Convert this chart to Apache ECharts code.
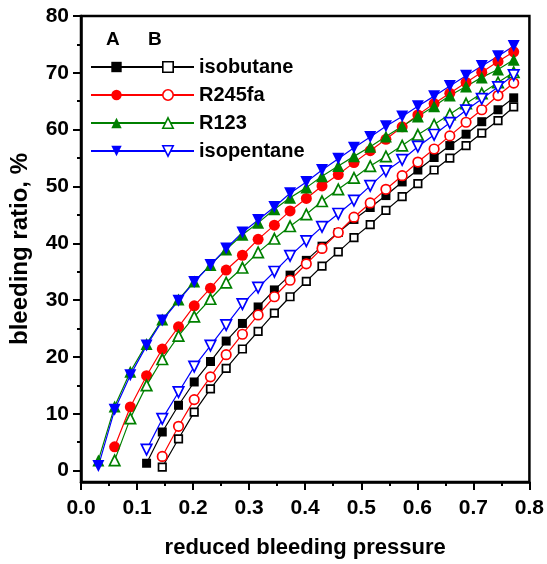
<!DOCTYPE html>
<html>
<head>
<meta charset="utf-8">
<script src="https://cdn.jsdelivr.net/npm/echarts@6/dist/echarts.min.js"></script>
<style>
html,body{margin:0;padding:0;background:#fff;}
#chart{width:547px;height:564px;}
</style>
</head>
<body>
<div id="chart"></div>
<script>
// ---- data ----
const reducedPressure = [0.031,0.060,0.088,0.117,0.145,0.174,0.202,0.231,0.259,0.288,0.316,0.345,0.373,0.402,0.430,0.459,0.487,0.516,0.544,0.573,0.601,0.630,0.658,0.687,0.715,0.744,0.772];

const isobutaneA = [null,null,null,1.3,6.8,11.5,15.6,19.2,22.8,25.9,28.8,31.8,34.4,37.0,39.5,41.9,44.2,46.3,48.4,50.8,52.9,55.1,57.2,59.2,61.4,63.5,65.6];
const r245faA = [null,4.2,11.2,16.7,21.4,25.3,29.0,32.1,35.3,37.9,40.7,43.2,45.7,47.9,50.1,52.1,54.2,56.3,58.3,60.5,62.6,64.6,66.4,68.3,70.1,72.0,73.7];
const r123A = [1.8,11.3,17.4,22.3,26.6,30.1,33.3,36.2,38.9,41.5,43.6,46.0,48.0,49.8,51.8,53.6,55.3,57.0,58.8,60.6,62.3,64.1,66.0,67.6,69.2,70.6,72.3];
const isopentaneA = [0.8,10.7,16.8,22.0,26.4,29.9,33.2,36.2,39.1,41.9,44.1,46.4,48.8,50.8,52.9,54.9,56.8,58.7,60.6,62.3,64.1,65.9,67.7,69.5,71.2,72.9,74.7];

const isobutaneB = [null,null,null,null,0.6,5.6,10.3,14.4,18.0,21.4,24.5,27.7,30.6,33.3,36.0,38.5,41.0,43.3,45.8,48.2,50.5,52.9,55.0,57.2,59.4,61.6,64.0];
const r245faB = [null,null,null,null,2.5,7.8,12.5,16.5,20.4,24.0,27.4,30.6,33.5,36.4,39.1,41.9,44.6,47.1,49.5,51.9,54.3,56.6,58.9,61.3,63.5,66.0,68.2];
const r123B = [null,1.8,9.2,15.0,19.6,23.7,27.1,30.2,33.1,35.7,38.4,40.8,43.0,45.1,47.4,49.5,51.5,53.6,55.3,57.2,59.1,60.9,62.7,64.6,66.4,68.3,70.1];
const isopentaneB = [null,null,null,3.7,9.1,13.8,18.3,22.0,25.6,29.3,32.2,35.0,37.8,40.4,42.9,45.2,47.5,50.1,52.7,54.7,57.0,59.1,61.2,63.4,65.4,67.5,69.6];

const fluids = ['isobutane','R245fa','R123','isopentane'];
const xTicks = [0,0.1,0.2,0.3,0.4,0.5,0.6,0.7,0.8];
const yTicks = [0,10,20,30,40,50,60,70,80];
const yMinorTicks = [5,15,25,35,45,55,65,75];

// ---- styling ----
const FONT = 'Liberation Sans, Arial, Helvetica, sans-serif';
const colors = ['#000000','#ff0000','#008000','#0000ff'];
const symbols = ['rect','circle','triangle','triangle'];
const rotations = [0,0,0,180];
const filledSizes = [9,11,12,12];
const openSizes = [7.5,9.5,10.5,10.5];

function pts(ys){
  const out = [];
  ys.forEach((y,i)=>{ if(y!==null) out.push([reducedPressure[i], y]); });
  return out;
}

const dataA = [isobutaneA, r245faA, r123A, isopentaneA];
const dataB = [isobutaneB, r245faB, r123B, isopentaneB];

const series = [];
fluids.forEach((f,k)=>{
  series.push({
    name: f + ' A', type: 'line', data: pts(dataA[k]),
    symbol: symbols[k], symbolRotate: rotations[k], symbolSize: filledSizes[k],
    showAllSymbol: true,
    lineStyle: {color: colors[k], width: 1.2},
    itemStyle: {color: colors[k], borderWidth: 0},
    emphasis: {disabled: true}, animation: false, z: 2
  });
});
fluids.forEach((f,k)=>{
  series.push({
    name: f + ' B', type: 'line', data: pts(dataB[k]),
    symbol: symbols[k], symbolRotate: rotations[k], symbolSize: openSizes[k],
    showAllSymbol: true,
    lineStyle: {color: colors[k], width: 1.2},
    itemStyle: {color: '#ffffff', borderColor: colors[k], borderWidth: 1.7},
    emphasis: {disabled: true}, animation: false, z: 3
  });
});

const chart = echarts.init(document.getElementById('chart'), null, {renderer: 'canvas'});
chart.setOption({
  animation: false,
  backgroundColor: '#ffffff',
  grid: {left: 81, right: 17, top: 16, bottom: 81, show: true, borderColor: '#000', borderWidth: 2.5, containLabel: false},
  xAxis: {
    type: 'value', min: 0, max: 0.8, interval: 0.1,
    name: 'reduced bleeding pressure', nameLocation: 'middle', nameGap: 55,
    nameTextStyle: {fontFamily: FONT, fontWeight: 'bold', fontSize: 22, color: '#000'},
    axisLine: {show: true, onZero: false, lineStyle: {color: '#000', width: 2.5}},
    axisTick: {show: true, inside: false, length: 8, lineStyle: {color: '#000', width: 2}},
    minorTick: {show: true, splitNumber: 2, length: 4, lineStyle: {color: '#000', width: 2}},
    splitLine: {show: false},
    axisLabel: {margin: 16, fontFamily: FONT, fontWeight: 'bold', fontSize: 21, color: '#000',
      customValues: xTicks, formatter: v => v.toFixed(1)}
  },
  yAxis: [{
    type: 'value', min: -2, max: 80, position: 'left',
    name: 'bleeding ratio, %', nameLocation: 'middle', nameGap: 49, nameRotate: 90,
    nameTextStyle: {fontFamily: FONT, fontWeight: 'bold', fontSize: 24, color: '#000'},
    axisLine: {show: true, onZero: false, lineStyle: {color: '#000', width: 2.5}},
    axisTick: {show: true, length: 8, customValues: yTicks, lineStyle: {color: '#000', width: 2}},
    splitLine: {show: false},
    axisLabel: {margin: 12, fontFamily: FONT, fontWeight: 'bold', fontSize: 21, color: '#000',
      customValues: yTicks, formatter: v => String(v)}
  },{
    type: 'value', min: -2, max: 80, position: 'left', offset: 0,
    axisLine: {show: false},
    axisTick: {show: true, length: 4, customValues: yMinorTicks, lineStyle: {color: '#000', width: 2}},
    axisLabel: {show: false}, splitLine: {show: false}
  }],
  legend: [{
    left: 90, top: 57, orient: 'vertical', padding: 0,
    itemWidth: 51, itemHeight: 13, itemGap: 8, selectedMode: false,
    data: fluids.map(f => f + ' A'),
    formatter: () => ' ',
    textStyle: {fontFamily: FONT, fontWeight: 'bold', fontSize: 20, color: '#000'}
  },{
    left: 141, top: 57, orient: 'vertical', padding: 0,
    itemWidth: 52, itemHeight: 13, itemGap: 8, selectedMode: false,
    data: fluids.map((f,k) => ({name: f + ' B', itemStyle: {color: '#ffffff', borderColor: colors[k], borderWidth: 1.6}})),
    formatter: n => n.replace(/ B$/, ''),
    textStyle: {fontFamily: FONT, fontWeight: 'bold', fontSize: 20, color: '#000'}
  }],
  graphic: [
    {type: 'text', left: 106, top: 30, style: {text: 'A', font: 'bold 19px ' + FONT, fill: '#000'}},
    {type: 'text', left: 148, top: 30, style: {text: 'B', font: 'bold 19px ' + FONT, fill: '#000'}}
  ],
  series: series
});
</script>
</body>
</html>
